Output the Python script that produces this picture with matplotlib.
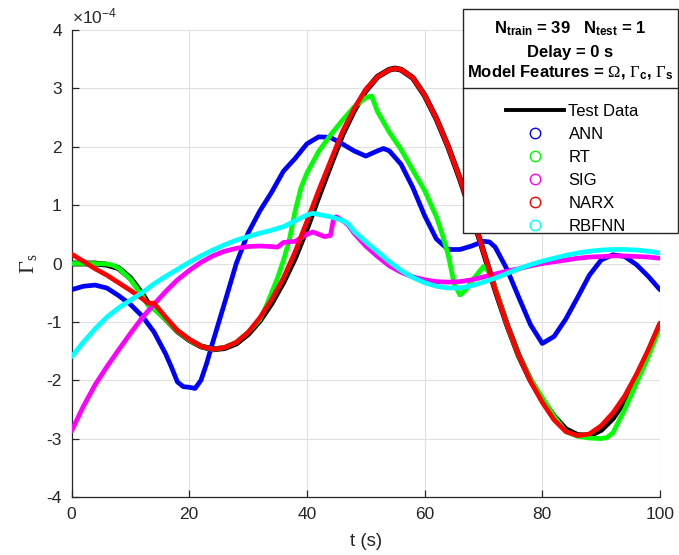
import matplotlib
matplotlib.use("Agg")
import matplotlib.pyplot as plt
from matplotlib.lines import Line2D
from matplotlib.patches import Rectangle

plt.rcParams['font.family'] = ['Liberation Sans', 'DejaVu Sans']
plt.rcParams['mathtext.fontset'] = 'custom'
plt.rcParams['mathtext.rm'] = 'Liberation Serif'
plt.rcParams['mathtext.it'] = 'Liberation Serif:italic'
plt.rcParams['mathtext.bf'] = 'Liberation Sans:bold'
plt.rcParams['mathtext.sf'] = 'Liberation Sans'
plt.rcParams['axes.unicode_minus'] = False

# ---- data (units of 1e-4) ----
t_test = [0,2,4,6,8,10,12,13,14,16,18,20,22,24,26,28,30,32,34,36,38,40,42,44,46,48,50,52,54,55,56,58,60,62,64,66,68,70,72,74,76,78,80,82,84,86,88,90,92,94,96,98,100]
v_test = [0.0,0.0,0.0,-0.02,-0.08,-0.25,-0.52,-0.68,-0.75,-0.95,-1.16,-1.31,-1.42,-1.47,-1.45,-1.37,-1.21,-0.98,-0.68,-0.32,0.1,0.6,1.15,1.68,2.2,2.62,2.96,3.2,3.32,3.34,3.32,3.18,2.88,2.48,2.0,1.45,0.85,0.2,-0.45,-1.05,-1.58,-2.0,-2.34,-2.62,-2.84,-2.94,-2.95,-2.85,-2.65,-2.35,-1.98,-1.52,-1.05]

t_ann = [0,2,4,6,8,10,12,14,16,17,18,19,20,21,22,23,24,26,28,30,32,34,36,38,40,42,44,46,48,50,52,53,54,56,58,60,62,64,66,68,70,71,72,74,76,78,80,82,84,86,88,90,92,94,96,98,100]
v_ann = [-0.45,-0.39,-0.37,-0.42,-0.55,-0.7,-0.9,-1.17,-1.55,-1.78,-2.03,-2.11,-2.12,-2.14,-2.0,-1.7,-1.35,-0.68,0.0,0.52,0.9,1.22,1.58,1.8,2.05,2.17,2.16,2.05,1.93,1.84,1.93,1.97,1.93,1.7,1.3,0.82,0.42,0.24,0.24,0.3,0.38,0.37,0.28,-0.1,-0.58,-1.05,-1.37,-1.25,-0.95,-0.58,-0.2,0.06,0.15,0.12,-0.02,-0.22,-0.45]

t_rt = [0,2,4,6,7,8,10,12,13,14,16,18,20,22,24,26,28,30,32,33,34,35,36,37,38,39,40,42,44,46,48,50,51,52,54,56,58,60,62,63,64,65,66,67,68,70,71,72,74,76,78,80,82,84,86,88,90,91,92,94,96,98,100]
v_rt = [0.0,0.0,0.0,-0.01,-0.03,-0.08,-0.27,-0.55,-0.72,-0.78,-0.96,-1.16,-1.31,-1.42,-1.47,-1.44,-1.35,-1.18,-0.96,-0.75,-0.5,-0.25,0.05,0.4,0.9,1.3,1.55,1.92,2.2,2.45,2.68,2.84,2.87,2.6,2.25,1.95,1.6,1.25,0.8,0.5,0.15,-0.34,-0.54,-0.45,-0.3,-0.05,-0.15,-0.42,-1.05,-1.58,-1.98,-2.3,-2.62,-2.88,-2.96,-2.99,-3.0,-2.98,-2.9,-2.5,-2.05,-1.6,-1.1]

t_sig = [0,2,4,6,8,10,12,14,16,18,20,22,24,26,28,30,32,34,35,36,37,38,40,41,42,43,44,44.5,45,46,47,48,50,52,54,56,58,60,62,64,66,68,70,72,74,76,78,80,82,84,86,88,90,92,94,96,98,100]
v_sig = [-2.87,-2.45,-2.08,-1.77,-1.48,-1.2,-0.93,-0.7,-0.48,-0.28,-0.12,0.02,0.13,0.21,0.26,0.29,0.3,0.29,0.28,0.36,0.37,0.38,0.5,0.54,0.5,0.46,0.48,0.75,0.8,0.74,0.66,0.52,0.3,0.12,-0.04,-0.15,-0.23,-0.28,-0.31,-0.32,-0.31,-0.28,-0.23,-0.18,-0.13,-0.09,-0.04,0.0,0.03,0.06,0.09,0.11,0.12,0.13,0.13,0.12,0.11,0.09]

t_narx = [0,2,4,6,8,10,12,13,14,16,18,20,22,24,26,28,30,32,34,36,38,40,42,44,46,48,50,52,54,55,56,58,60,62,64,66,68,70,72,74,76,78,80,82,84,86,88,90,92,94,96,98,100]
v_narx = [0.16,0.04,-0.09,-0.2,-0.33,-0.46,-0.6,-0.68,-0.68,-0.92,-1.15,-1.3,-1.42,-1.47,-1.44,-1.35,-1.18,-0.93,-0.62,-0.25,0.2,0.72,1.25,1.75,2.25,2.65,2.98,3.2,3.32,3.34,3.32,3.18,2.88,2.48,2.0,1.45,0.85,0.2,-0.45,-1.05,-1.58,-2.02,-2.38,-2.68,-2.88,-2.95,-2.92,-2.78,-2.56,-2.27,-1.9,-1.48,-1.02]

t_rbf = [0,2,4,6,8,10,12,14,16,18,20,22,24,26,28,30,32,34,36,38,40,41,42,44,46,47,48,50,52,54,56,58,60,62,64,66,68,70,72,74,76,78,80,82,84,86,88,90,92,94,96,98,100]
v_rbf = [-1.6,-1.35,-1.12,-0.92,-0.76,-0.63,-0.5,-0.35,-0.22,-0.1,0.02,0.13,0.23,0.32,0.4,0.46,0.52,0.57,0.63,0.73,0.83,0.86,0.84,0.8,0.74,0.68,0.55,0.37,0.2,0.03,-0.12,-0.24,-0.33,-0.39,-0.42,-0.42,-0.38,-0.32,-0.25,-0.17,-0.09,-0.02,0.04,0.09,0.14,0.18,0.21,0.23,0.24,0.24,0.23,0.21,0.18]

names = ['ANN', 'RT', 'SIG', 'NARX', 'RBFNN']
colors = ['#0000ff', '#00ff00', '#ff00ff', '#ff0000', '#00ffff']
series = [(t_ann, v_ann), (t_rt, v_rt), (t_sig, v_sig), (t_narx, v_narx), (t_rbf, v_rbf)]

W, H = 679, 555
fig = plt.figure(figsize=(W / 100, H / 100), dpi=100)
ax = fig.add_axes([71.5 / W, 1 - 497 / H, (660 - 71.5) / W, (497 - 30) / H])

ax.plot(t_test, v_test, color='black', lw=4.2, solid_capstyle='round', zorder=2)
for (tt, vv), c in zip(series, colors):
    ax.plot(tt, vv, color=c, lw=3.4, solid_capstyle='round', zorder=3)

ax.set_xlim(0, 100)
ax.set_ylim(-4, 4)
ax.set_xticks([0, 20, 40, 60, 80, 100])
ax.set_yticks([-4, -3, -2, -1, 0, 1, 2, 3, 4])
ax.grid(True, color='#e0e0e0', lw=0.8)
ax.set_axisbelow(True)
for s in ['top', 'right']:
    ax.spines[s].set_visible(False)
for s in ['left', 'bottom']:
    ax.spines[s].set_color('#262626')
    ax.spines[s].set_linewidth(0.9)
ax.tick_params(direction='in', length=5, width=0.9, colors='#262626', labelsize=12.5, pad=7)
ax.set_xlabel('t (s)', fontsize=13.5, color='#262626', labelpad=8)
ax.set_ylabel(r'$\Gamma_{\mathrm{s}}$', fontsize=16, color='#262626', labelpad=5)
ax.text(0.0, 1.008, r'$\mathsf{\times10^{-4}}$', transform=ax.transAxes, fontsize=12.5,
        color='#262626', ha='left', va='bottom')

# legend box with header
bx0, bx1, by0, by1, bdiv = 463, 678, 9, 233, 88
fig.add_artist(Rectangle((bx0 / W, 1 - by1 / H), (bx1 - bx0) / W, (by1 - by0) / H,
                         transform=fig.transFigure, facecolor='white', edgecolor='#262626',
                         lw=1.0, zorder=4))
fig.add_artist(Line2D([bx0 / W, bx1 / W], [1 - bdiv / H, 1 - bdiv / H],
                      transform=fig.transFigure, color='#262626', lw=1.0, zorder=5))
cx = (bx0 + bx1) / 2 / W
fig.text(cx, 1 - 29 / H, r'$\mathbf{N_{train}}$ = 39   $\mathbf{N_{test}}$ = 1', ha='center', va='center',
         fontsize=12, fontweight='bold', zorder=6)
fig.text(cx, 1 - 52 / H, 'Delay = 0 s', ha='center', va='center', fontsize=12, fontweight='bold', zorder=6)
fig.text(cx, 1 - 72 / H, r'Model Features = $\Omega$, $\Gamma_{\mathbf{c}}$, $\Gamma_{\mathbf{s}}$',
         ha='center', va='center', fontsize=12, fontweight='bold', zorder=6)

handles = [Line2D([], [], color='black', lw=2.8)]
for c in colors:
    handles.append(Line2D([], [], color=c, marker='o', ls='none', ms=7.5, mfc='none', mew=1.0))
leg = fig.legend(handles, ['Test Data'] + names, loc='upper left',
                 bbox_to_anchor=(506 / W, 1 - 104 / H), frameon=False, fontsize=12,
                 handlelength=3.5, handletextpad=0.25, labelspacing=0.48, borderaxespad=0,
                 borderpad=0)
leg.set_zorder(7)

fig.savefig('out.png', dpi=100)
